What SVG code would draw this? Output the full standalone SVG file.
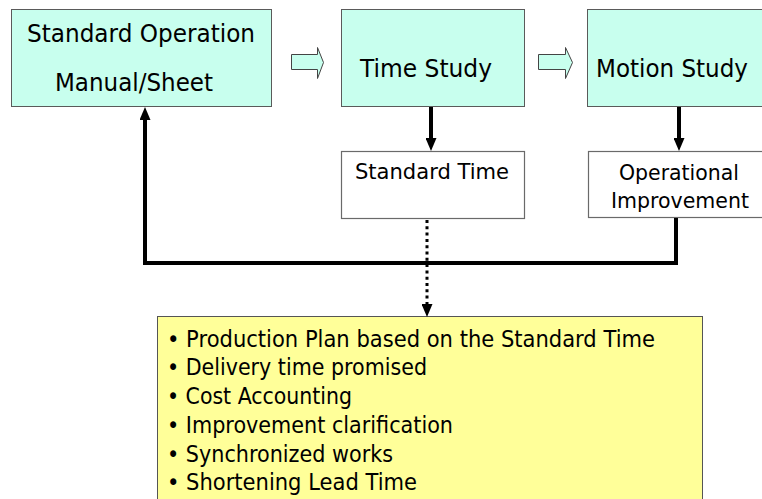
<svg xmlns="http://www.w3.org/2000/svg" width="762" height="499" viewBox="0 0 762 499">
<defs>
<style>
text{font-family:"DejaVu Sans","Verdana",sans-serif;fill:#000}
.big{font-size:25px}
.mid{font-size:21px}
.lst{font-size:23px}
.study{fill:#C8FFEE;stroke:#5a5a5a;stroke-width:1}
.res{fill:#FFFFFF;stroke:#6a6a6a;stroke-width:1.2}
.hollow{fill:#C8FFEE;stroke:#444;stroke-width:1}
.thick{fill:none;stroke:#000;stroke-width:4;stroke-linejoin:miter}
.dot{fill:none;stroke:#000;stroke-width:3;stroke-dasharray:3 3.3}
</style>
<marker id="ah" viewBox="0 0 13 11" refX="0" refY="5.5" markerWidth="13" markerHeight="11" markerUnits="userSpaceOnUse" orient="auto">
<path d="M0,0 L13,5.5 L0,11 Z" fill="#000"/>
</marker>
</defs>
<rect width="762" height="499" fill="#FFFFFF"/>

<g id="node-standard-operation">
<rect class="study" x="11.5" y="9.5" width="260" height="97"/>
<text class="big" x="27" y="42" textLength="228" lengthAdjust="spacingAndGlyphs">Standard Operation</text>
<text class="big" x="55" y="91" textLength="158" lengthAdjust="spacingAndGlyphs">Manual/Sheet</text>
</g>

<g id="node-time-study">
<rect class="study" x="341.5" y="9.5" width="183" height="97"/>
<text class="big" x="360" y="77" textLength="132" lengthAdjust="spacingAndGlyphs">Time Study</text>
</g>

<g id="node-motion-study">
<rect class="study" x="587.5" y="9.5" width="180" height="97"/>
<text class="big" x="596" y="77" textLength="152" lengthAdjust="spacingAndGlyphs">Motion Study</text>
</g>

<g id="node-standard-time">
<rect class="res" x="341.5" y="151.5" width="183" height="67"/>
<text class="mid" x="355" y="179" textLength="154" lengthAdjust="spacingAndGlyphs">Standard Time</text>
</g>

<g id="node-operational-improvement">
<rect class="res" x="588.5" y="151.5" width="180" height="66"/>
<text class="mid" x="619" y="180" textLength="120" lengthAdjust="spacingAndGlyphs">Operational</text>
<text class="mid" x="611" y="208" textLength="138" lengthAdjust="spacingAndGlyphs">Improvement</text>
</g>

<g id="node-benefits">
<rect x="157.5" y="316.5" width="545" height="200" fill="#FFFF99" stroke="#555" stroke-width="1"/>
<text class="lst" x="167" y="347" textLength="488" lengthAdjust="spacingAndGlyphs">• Production Plan based on the Standard Time</text>
<text class="lst" x="167" y="375" textLength="260" lengthAdjust="spacingAndGlyphs">• Delivery time promised</text>
<text class="lst" x="167" y="404" textLength="185" lengthAdjust="spacingAndGlyphs">• Cost Accounting</text>
<text class="lst" x="167" y="433" textLength="286" lengthAdjust="spacingAndGlyphs">• Improvement clarification</text>
<text class="lst" x="167" y="462" textLength="226" lengthAdjust="spacingAndGlyphs">• Synchronized works</text>
<text class="lst" x="167" y="490" textLength="250" lengthAdjust="spacingAndGlyphs">• Shortening Lead Time</text>
</g>

<g id="connectors">
<polygon class="hollow" points="291.5,54.5 317.5,54.5 317.5,47.5 323.5,62.5 317.5,78.5 317.5,69.5 291.5,69.5"/>
<polygon class="hollow" points="538.5,54.5 565.5,54.5 565.5,47.5 572.5,62.5 565.5,78.5 565.5,69.5 538.5,69.5"/>
<line class="thick" x1="431" y1="107" x2="431" y2="138" marker-end="url(#ah)"/>
<line class="thick" x1="679" y1="107" x2="679" y2="138" marker-end="url(#ah)"/>
<path class="thick" d="M676,218 V263 H145 V120" marker-end="url(#ah)"/>
<line class="dot" x1="427" y1="220" x2="427" y2="304" marker-end="url(#ah)"/>
</g>
</svg>
